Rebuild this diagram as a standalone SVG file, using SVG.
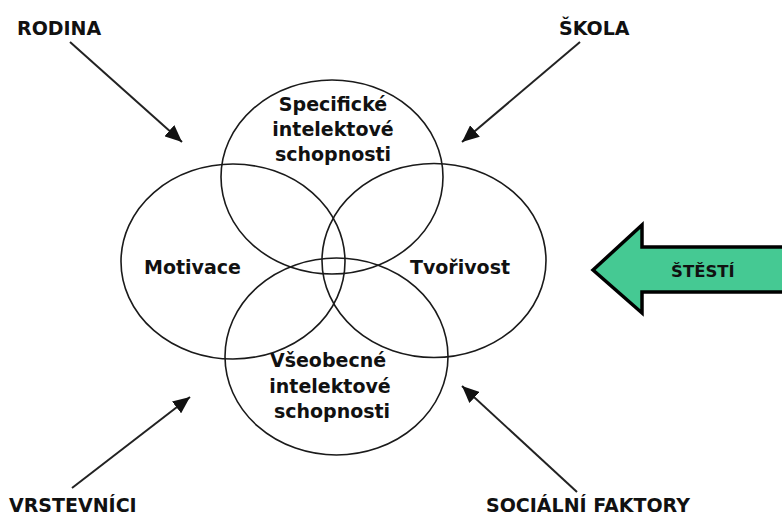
<svg xmlns="http://www.w3.org/2000/svg" width="782" height="516" viewBox="0 0 782 516">
  <style>
    .lbl { font-family: "DejaVu Sans", "Liberation Sans", sans-serif; font-weight: bold; font-size: 19px; fill: #111; }
    .in { text-anchor: middle; }
    .ring { fill: none; stroke: #1a1a1a; stroke-width: 1.6; }
    .con { stroke: #222; stroke-width: 2; fill: none; marker-end: url(#ah); }
  </style>
  <defs>
    <marker id="ah" markerUnits="userSpaceOnUse" markerWidth="18" markerHeight="15" refX="17" refY="7.5" orient="auto" viewBox="0 0 18 15">
      <path d="M0,0 L17,7.5 L0,15 z" fill="#111"/>
    </marker>
  </defs>
  <rect width="782" height="516" fill="#fff"/>

  <g id="specificke">
    <ellipse class="ring" cx="332" cy="177" rx="111" ry="97"/>
    <text class="lbl in" x="333" y="111">Specifické</text>
    <text class="lbl in" x="333" y="136">intelektové</text>
    <text class="lbl in" x="333" y="161">schopnosti</text>
  </g>
  <g id="motivace">
    <ellipse class="ring" cx="233" cy="261.5" rx="112" ry="97.5"/>
    <text class="lbl in" x="192.5" y="274">Motivace</text>
  </g>
  <g id="tvorivost">
    <ellipse class="ring" cx="434" cy="260.5" rx="112" ry="97"/>
    <text class="lbl in" x="460" y="274">Tvořivost</text>
  </g>
  <g id="vseobecne">
    <ellipse class="ring" cx="336.5" cy="356.5" rx="111.5" ry="98.5"/>
    <text class="lbl in" x="328" y="367">Všeobecné</text>
    <text class="lbl in" x="330" y="393">intelektové</text>
    <text class="lbl in" x="332" y="418">schopnosti</text>
  </g>

  <g id="rodina"><text class="lbl" x="17" y="35">RODINA</text></g>
  <g id="skola"><text class="lbl" x="559" y="35">ŠKOLA</text></g>
  <g id="vrstevnici"><text class="lbl" x="9" y="512">VRSTEVNÍCI</text></g>
  <g id="socialni"><text class="lbl" x="486" y="512">SOCIÁLNÍ FAKTORY</text></g>

  <g id="stesti">
    <path d="M593,270 L642,225 L642,247 L790,247 L790,292 L642,292 L642,313 Z" fill="#45c993" stroke="#000" stroke-width="3.5" stroke-linejoin="miter"/>
    <text class="lbl" x="671" y="277" style="font-size:16.5px">ŠTĚSTÍ</text>
  </g>

  <g id="connectors">
    <line class="con" x1="70" y1="42" x2="182" y2="142"/>
    <line class="con" x1="580" y1="42" x2="462" y2="142"/>
    <line class="con" x1="72" y1="488" x2="190" y2="397"/>
    <line class="con" x1="577" y1="492" x2="462" y2="386"/>
  </g>
</svg>
